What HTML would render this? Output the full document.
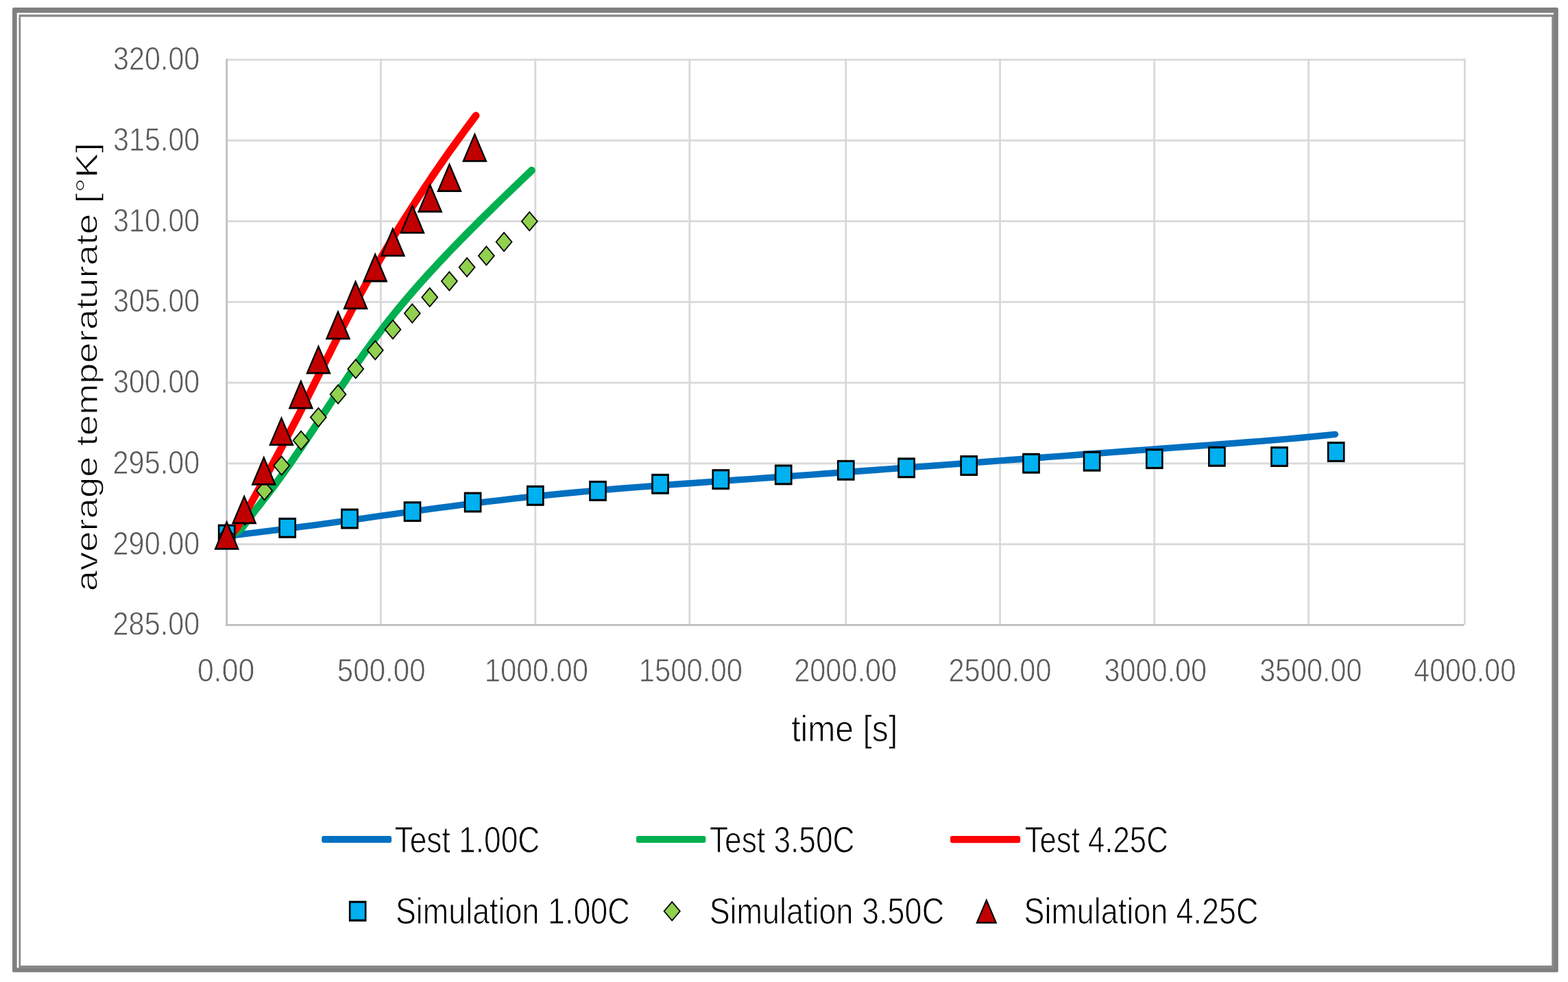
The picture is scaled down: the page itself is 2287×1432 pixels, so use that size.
<!DOCTYPE html><html><head><meta charset="utf-8"><style>html,body{margin:0;padding:0;background:#fff}svg{display:block}text{font-family:"Liberation Sans",Arial,sans-serif}</style></head><body>
<svg width="2287" height="1432" viewBox="0 0 2287 1432">
<rect width="2287" height="1432" fill="#fff"/>
<rect x="18" y="11" width="2254.8" height="1406.7" rx="2" fill="#7f7f7f"/>
<rect x="24.7" y="18.7" width="2241.4" height="1392.6" fill="#fff"/>
<rect x="27.4" y="21.2" width="2239.4" height="1390.8" fill="#888"/>
<rect x="30.2" y="24.6" width="2233.1" height="1383.4" fill="#fff"/>
<rect x="330.7" y="792.23" width="1807.1" height="2.8" fill="#d9d9d9"/>
<rect x="330.7" y="674.48" width="1807.1" height="2.8" fill="#d9d9d9"/>
<rect x="330.7" y="556.72" width="1807.1" height="2.8" fill="#d9d9d9"/>
<rect x="330.7" y="438.97" width="1807.1" height="2.8" fill="#d9d9d9"/>
<rect x="330.7" y="321.21" width="1807.1" height="2.8" fill="#d9d9d9"/>
<rect x="330.7" y="203.45" width="1807.1" height="2.8" fill="#d9d9d9"/>
<rect x="330.7" y="85.70" width="1807.1" height="2.8" fill="#d9d9d9"/>
<rect x="554.10" y="85.70" width="2.8" height="825.68" fill="#d9d9d9"/>
<rect x="779.40" y="85.70" width="2.8" height="825.68" fill="#d9d9d9"/>
<rect x="1004.40" y="85.70" width="2.8" height="825.68" fill="#d9d9d9"/>
<rect x="1232.30" y="85.70" width="2.8" height="825.68" fill="#d9d9d9"/>
<rect x="1457.20" y="85.70" width="2.8" height="825.68" fill="#d9d9d9"/>
<rect x="1682.20" y="85.70" width="2.8" height="825.68" fill="#d9d9d9"/>
<rect x="1907.20" y="85.70" width="2.8" height="825.68" fill="#d9d9d9"/>
<rect x="2135.00" y="85.70" width="2.8" height="825.68" fill="#d9d9d9"/>
<rect x="329.30" y="85.70" width="2.8" height="827.08" fill="#bfbfbf"/>
<rect x="329.30" y="909.99" width="1805.70" height="2.8" fill="#bfbfbf"/>
<g fill="none" stroke-linecap="round" stroke-linejoin="round">
<path d="M330.7,781.5 L348.9,779.5 L367.0,777.4 L385.2,775.2 L403.4,772.9 L421.5,770.6 L439.7,768.2 L457.9,765.8 L476.0,763.3 L494.2,760.8 L512.4,758.3 L530.5,755.8 L548.7,753.2 L566.9,750.7 L585.0,748.2 L603.2,745.6 L621.4,743.2 L639.5,740.7 L657.7,738.3 L675.9,735.9 L694.0,733.7 L712.2,731.4 L730.4,729.3 L748.5,727.2 L766.7,725.2 L784.9,723.3 L803.0,721.5 L821.2,719.7 L839.4,718.0 L857.5,716.4 L875.7,714.8 L893.9,713.3 L912.0,711.8 L930.2,710.4 L948.4,709.0 L966.5,707.6 L984.7,706.3 L1002.9,705.0 L1021.0,703.7 L1039.2,702.4 L1057.4,701.1 L1075.5,699.8 L1093.7,698.6 L1111.9,697.3 L1130.0,696.0 L1148.2,694.7 L1166.3,693.4 L1184.5,692.1 L1202.7,690.8 L1220.8,689.5 L1239.0,688.1 L1257.2,686.8 L1275.3,685.5 L1293.5,684.1 L1311.7,682.8 L1329.8,681.4 L1348.0,680.1 L1366.2,678.7 L1384.3,677.4 L1402.5,676.0 L1420.7,674.6 L1438.8,673.3 L1457.0,671.9 L1475.2,670.5 L1493.3,669.2 L1511.5,667.8 L1529.7,666.4 L1547.8,665.1 L1566.0,663.7 L1584.2,662.3 L1602.3,661.0 L1620.5,659.6 L1638.7,658.3 L1656.8,656.9 L1675.0,655.6 L1693.2,654.2 L1711.3,652.9 L1729.5,651.5 L1747.7,650.2 L1765.8,648.9 L1784.0,647.5 L1802.2,646.2 L1820.3,644.8 L1838.5,643.4 L1856.7,641.9 L1874.8,640.4 L1893.0,638.7 L1911.2,637.0 L1929.3,635.3 L1947.5,633.4" stroke="#0070c0" stroke-width="9.4"/>
<path d="M330.7,781.7 L341.0,778.5 L352.0,771.0 L372.3,744.0 L379.1,735.6 L385.6,727.2 L392.1,718.8 L398.4,710.4 L404.6,702.0 L410.7,693.6 L416.7,685.2 L422.6,676.8 L428.5,668.4 L434.2,660.0 L440.0,651.6 L445.6,643.2 L451.2,634.8 L456.8,626.4 L462.3,618.0 L467.8,609.6 L473.4,601.2 L478.9,592.8 L484.4,584.4 L489.9,576.0 L495.5,567.6 L501.1,559.2 L506.7,550.8 L512.4,542.4 L518.2,534.0 L524.0,525.6 L529.9,517.2 L535.9,508.8 L542.0,500.4 L548.2,492.1 L554.5,483.7 L560.9,475.3 L567.5,466.9 L574.2,458.5 L581.0,450.1 L588.0,441.7 L595.1,433.3 L602.4,424.9 L609.7,416.5 L617.2,408.1 L624.8,399.7 L632.5,391.3 L640.3,382.9 L648.2,374.5 L656.2,366.1 L664.3,357.7 L672.5,349.3 L680.8,340.9 L689.1,332.5 L697.5,324.1 L706.0,315.7 L714.5,307.3 L723.1,298.9 L731.7,290.5 L740.4,282.1 L749.2,273.7 L757.9,265.3 L766.7,256.9 L775.5,248.5" stroke="#00b050" stroke-width="10.8"/>
<path d="M330.7,781.7 L339.0,778.0 L346.0,769.1 L350.9,760.4 L355.9,751.7 L360.9,743.0 L365.8,734.3 L370.7,725.6 L375.5,716.9 L380.4,708.2 L385.2,699.5 L390.0,690.8 L394.8,682.1 L399.5,673.4 L404.2,664.6 L408.9,655.9 L413.5,647.2 L418.1,638.5 L422.7,629.8 L427.3,621.1 L431.8,612.4 L436.3,603.7 L440.7,595.0 L445.1,586.3 L449.5,577.6 L453.9,568.9 L458.2,560.2 L462.6,551.5 L466.9,542.8 L471.3,534.1 L475.6,525.4 L480.0,516.7 L484.3,508.0 L488.7,499.3 L493.2,490.6 L497.6,481.9 L502.1,473.2 L506.7,464.4 L511.2,455.7 L515.9,447.0 L520.6,438.3 L525.3,429.6 L530.1,420.9 L534.9,412.2 L539.8,403.5 L544.8,394.8 L549.8,386.1 L554.8,377.4 L559.9,368.7 L565.1,360.0 L570.3,351.3 L575.6,342.6 L580.9,333.9 L586.3,325.2 L591.8,316.5 L597.3,307.8 L602.9,299.1 L608.5,290.4 L614.2,281.7 L619.9,273.0 L625.8,264.2 L631.6,255.5 L637.6,246.8 L643.6,238.1 L649.7,229.4 L655.8,220.7 L662.1,212.0 L668.3,203.3 L674.7,194.6 L681.1,185.9 L687.6,177.2 L694.1,168.5" stroke="#ff0000" stroke-width="10.8"/>
</g>
<rect x="317.85" y="764.55" width="25.7" height="29.9" fill="#000"/><rect x="320.45" y="767.65" width="20.50" height="23.70" fill="#00b0f0"/>
<rect x="406.35" y="754.85" width="25.7" height="29.9" fill="#000"/><rect x="408.95" y="757.95" width="20.50" height="23.70" fill="#00b0f0"/>
<rect x="497.15" y="741.55" width="25.7" height="29.9" fill="#000"/><rect x="499.75" y="744.65" width="20.50" height="23.70" fill="#00b0f0"/>
<rect x="588.65" y="731.15" width="25.7" height="29.9" fill="#000"/><rect x="591.25" y="734.25" width="20.50" height="23.70" fill="#00b0f0"/>
<rect x="676.75" y="717.55" width="25.7" height="29.9" fill="#000"/><rect x="679.35" y="720.65" width="20.50" height="23.70" fill="#00b0f0"/>
<rect x="767.95" y="707.85" width="25.7" height="29.9" fill="#000"/><rect x="770.55" y="710.95" width="20.50" height="23.70" fill="#00b0f0"/>
<rect x="859.15" y="700.95" width="25.7" height="29.9" fill="#000"/><rect x="861.75" y="704.05" width="20.50" height="23.70" fill="#00b0f0"/>
<rect x="950.15" y="690.85" width="25.7" height="29.9" fill="#000"/><rect x="952.75" y="693.95" width="20.50" height="23.70" fill="#00b0f0"/>
<rect x="1038.45" y="684.15" width="25.7" height="29.9" fill="#000"/><rect x="1041.05" y="687.25" width="20.50" height="23.70" fill="#00b0f0"/>
<rect x="1129.85" y="677.45" width="25.7" height="29.9" fill="#000"/><rect x="1132.45" y="680.55" width="20.50" height="23.70" fill="#00b0f0"/>
<rect x="1220.95" y="670.85" width="25.7" height="29.9" fill="#000"/><rect x="1223.55" y="673.95" width="20.50" height="23.70" fill="#00b0f0"/>
<rect x="1309.25" y="667.35" width="25.7" height="29.9" fill="#000"/><rect x="1311.85" y="670.45" width="20.50" height="23.70" fill="#00b0f0"/>
<rect x="1400.35" y="664.05" width="25.7" height="29.9" fill="#000"/><rect x="1402.95" y="667.15" width="20.50" height="23.70" fill="#00b0f0"/>
<rect x="1491.15" y="660.75" width="25.7" height="29.9" fill="#000"/><rect x="1493.75" y="663.85" width="20.50" height="23.70" fill="#00b0f0"/>
<rect x="1579.75" y="657.75" width="25.7" height="29.9" fill="#000"/><rect x="1582.35" y="660.85" width="20.50" height="23.70" fill="#00b0f0"/>
<rect x="1670.95" y="654.15" width="25.7" height="29.9" fill="#000"/><rect x="1673.55" y="657.25" width="20.50" height="23.70" fill="#00b0f0"/>
<rect x="1762.05" y="650.85" width="25.7" height="29.9" fill="#000"/><rect x="1764.65" y="653.95" width="20.50" height="23.70" fill="#00b0f0"/>
<rect x="1853.15" y="651.05" width="25.7" height="29.9" fill="#000"/><rect x="1855.75" y="654.15" width="20.50" height="23.70" fill="#00b0f0"/>
<rect x="1935.85" y="644.05" width="25.7" height="29.9" fill="#000"/><rect x="1938.45" y="647.15" width="20.50" height="23.70" fill="#00b0f0"/>
<path d="M330.70,766.50 L343.30,781.50 L330.70,796.50 L318.10,781.50Z" fill="#000"/><path d="M330.70,769.25 L341.02,781.50 L330.70,793.75 L320.38,781.50Z" fill="#92d050"/>
<path d="M357.00,737.00 L369.60,752.00 L357.00,767.00 L344.40,752.00Z" fill="#000"/><path d="M357.00,739.75 L367.32,752.00 L357.00,764.25 L346.68,752.00Z" fill="#92d050"/>
<path d="M385.70,700.50 L398.30,715.50 L385.70,730.50 L373.10,715.50Z" fill="#000"/><path d="M385.70,703.25 L396.02,715.50 L385.70,727.75 L375.38,715.50Z" fill="#92d050"/>
<path d="M410.70,664.10 L423.30,679.10 L410.70,694.10 L398.10,679.10Z" fill="#000"/><path d="M410.70,666.86 L421.02,679.10 L410.70,691.35 L400.38,679.10Z" fill="#92d050"/>
<path d="M439.10,627.20 L451.70,642.20 L439.10,657.20 L426.50,642.20Z" fill="#000"/><path d="M439.10,629.96 L449.42,642.20 L439.10,654.45 L428.78,642.20Z" fill="#92d050"/>
<path d="M464.40,593.40 L477.00,608.40 L464.40,623.40 L451.80,608.40Z" fill="#000"/><path d="M464.40,596.15 L474.72,608.40 L464.40,620.64 L454.08,608.40Z" fill="#92d050"/>
<path d="M493.10,560.00 L505.70,575.00 L493.10,590.00 L480.50,575.00Z" fill="#000"/><path d="M493.10,562.75 L503.42,575.00 L493.10,587.25 L482.78,575.00Z" fill="#92d050"/>
<path d="M518.80,523.00 L531.40,538.00 L518.80,553.00 L506.20,538.00Z" fill="#000"/><path d="M518.80,525.75 L529.12,538.00 L518.80,550.25 L508.48,538.00Z" fill="#92d050"/>
<path d="M547.30,495.80 L559.90,510.80 L547.30,525.80 L534.70,510.80Z" fill="#000"/><path d="M547.30,498.56 L557.62,510.80 L547.30,523.04 L536.98,510.80Z" fill="#92d050"/>
<path d="M573.00,465.60 L585.60,480.60 L573.00,495.60 L560.40,480.60Z" fill="#000"/><path d="M573.00,468.36 L583.32,480.60 L573.00,492.85 L562.68,480.60Z" fill="#92d050"/>
<path d="M601.30,442.00 L613.90,457.00 L601.30,472.00 L588.70,457.00Z" fill="#000"/><path d="M601.30,444.75 L611.62,457.00 L601.30,469.25 L590.98,457.00Z" fill="#92d050"/>
<path d="M626.80,418.40 L639.40,433.40 L626.80,448.40 L614.20,433.40Z" fill="#000"/><path d="M626.80,421.15 L637.12,433.40 L626.80,445.64 L616.48,433.40Z" fill="#92d050"/>
<path d="M655.40,395.00 L668.00,410.00 L655.40,425.00 L642.80,410.00Z" fill="#000"/><path d="M655.40,397.75 L665.72,410.00 L655.40,422.25 L645.08,410.00Z" fill="#92d050"/>
<path d="M681.10,374.70 L693.70,389.70 L681.10,404.70 L668.50,389.70Z" fill="#000"/><path d="M681.10,377.45 L691.42,389.70 L681.10,401.94 L670.78,389.70Z" fill="#92d050"/>
<path d="M709.40,357.90 L722.00,372.90 L709.40,387.90 L696.80,372.90Z" fill="#000"/><path d="M709.40,360.65 L719.72,372.90 L709.40,385.14 L699.08,372.90Z" fill="#92d050"/>
<path d="M735.10,337.80 L747.70,352.80 L735.10,367.80 L722.50,352.80Z" fill="#000"/><path d="M735.10,340.56 L745.42,352.80 L735.10,365.05 L724.78,352.80Z" fill="#92d050"/>
<path d="M772.30,307.80 L784.90,322.80 L772.30,337.80 L759.70,322.80Z" fill="#000"/><path d="M772.30,310.56 L782.62,322.80 L772.30,335.05 L761.98,322.80Z" fill="#92d050"/>
<path d="M330.70,758.30 L349.05,801.70 L312.35,801.70Z" fill="#000"/><path d="M330.70,764.21 L345.37,798.90 L316.03,798.90Z" fill="#c00000"/>
<path d="M356.20,720.90 L374.55,764.30 L337.85,764.30Z" fill="#000"/><path d="M356.20,726.81 L370.87,761.50 L341.53,761.50Z" fill="#c00000"/>
<path d="M384.80,664.30 L403.15,707.70 L366.45,707.70Z" fill="#000"/><path d="M384.80,670.21 L399.47,704.90 L370.13,704.90Z" fill="#c00000"/>
<path d="M410.50,606.70 L428.85,650.10 L392.15,650.10Z" fill="#000"/><path d="M410.50,612.61 L425.17,647.30 L395.83,647.30Z" fill="#c00000"/>
<path d="M438.90,553.10 L457.25,596.50 L420.55,596.50Z" fill="#000"/><path d="M438.90,559.01 L453.57,593.70 L424.23,593.70Z" fill="#c00000"/>
<path d="M464.50,502.20 L482.85,545.60 L446.15,545.60Z" fill="#000"/><path d="M464.50,508.11 L479.17,542.80 L449.83,542.80Z" fill="#c00000"/>
<path d="M493.00,451.80 L511.35,495.20 L474.65,495.20Z" fill="#000"/><path d="M493.00,457.71 L507.67,492.40 L478.33,492.40Z" fill="#c00000"/>
<path d="M518.60,407.80 L536.95,451.20 L500.25,451.20Z" fill="#000"/><path d="M518.60,413.71 L533.27,448.40 L503.93,448.40Z" fill="#c00000"/>
<path d="M547.20,368.00 L565.55,411.40 L528.85,411.40Z" fill="#000"/><path d="M547.20,373.91 L561.87,408.60 L532.53,408.60Z" fill="#c00000"/>
<path d="M572.90,330.80 L591.25,374.20 L554.55,374.20Z" fill="#000"/><path d="M572.90,336.71 L587.57,371.40 L558.23,371.40Z" fill="#c00000"/>
<path d="M601.50,297.30 L619.85,340.70 L583.15,340.70Z" fill="#000"/><path d="M601.50,303.21 L616.17,337.90 L586.83,337.90Z" fill="#c00000"/>
<path d="M627.20,266.50 L645.55,309.90 L608.85,309.90Z" fill="#000"/><path d="M627.20,272.41 L641.87,307.10 L612.53,307.10Z" fill="#c00000"/>
<path d="M655.50,236.70 L673.85,280.10 L637.15,280.10Z" fill="#000"/><path d="M655.50,242.61 L670.17,277.30 L640.83,277.30Z" fill="#c00000"/>
<path d="M692.40,192.90 L710.75,236.30 L674.05,236.30Z" fill="#000"/><path d="M692.40,198.81 L707.07,233.50 L677.73,233.50Z" fill="#c00000"/>
<text x="164.53" y="926.33" font-size="48.64" textLength="126.82" lengthAdjust="spacingAndGlyphs" fill="#595959" stroke="#fff" stroke-width="0.8">285.00</text>
<text x="164.53" y="808.57" font-size="48.64" textLength="126.82" lengthAdjust="spacingAndGlyphs" fill="#595959" stroke="#fff" stroke-width="0.8">290.00</text>
<text x="164.53" y="690.82" font-size="48.64" textLength="126.82" lengthAdjust="spacingAndGlyphs" fill="#595959" stroke="#fff" stroke-width="0.8">295.00</text>
<text x="165.03" y="573.06" font-size="48.64" textLength="126.30" lengthAdjust="spacingAndGlyphs" fill="#595959" stroke="#fff" stroke-width="0.8">300.00</text>
<text x="165.03" y="455.30" font-size="48.64" textLength="126.30" lengthAdjust="spacingAndGlyphs" fill="#595959" stroke="#fff" stroke-width="0.8">305.00</text>
<text x="165.03" y="337.55" font-size="48.64" textLength="126.30" lengthAdjust="spacingAndGlyphs" fill="#595959" stroke="#fff" stroke-width="0.8">310.00</text>
<text x="165.03" y="219.79" font-size="48.64" textLength="126.30" lengthAdjust="spacingAndGlyphs" fill="#595959" stroke="#fff" stroke-width="0.8">315.00</text>
<text x="165.03" y="102.04" font-size="48.64" textLength="126.30" lengthAdjust="spacingAndGlyphs" fill="#595959" stroke="#fff" stroke-width="0.8">320.00</text>
<text x="287.93" y="993.63" font-size="48.14" textLength="83.35" lengthAdjust="spacingAndGlyphs" fill="#595959" stroke="#fff" stroke-width="0.8">0.00</text>
<text x="491.81" y="993.63" font-size="48.14" textLength="128.85" lengthAdjust="spacingAndGlyphs" fill="#595959" stroke="#fff" stroke-width="0.8">500.00</text>
<text x="706.82" y="993.63" font-size="48.14" textLength="151.30" lengthAdjust="spacingAndGlyphs" fill="#595959" stroke="#fff" stroke-width="0.8">1000.00</text>
<text x="931.82" y="993.63" font-size="48.14" textLength="151.10" lengthAdjust="spacingAndGlyphs" fill="#595959" stroke="#fff" stroke-width="0.8">1500.00</text>
<text x="1158.23" y="993.63" font-size="48.14" textLength="149.98" lengthAdjust="spacingAndGlyphs" fill="#595959" stroke="#fff" stroke-width="0.8">2000.00</text>
<text x="1383.53" y="993.63" font-size="48.14" textLength="149.98" lengthAdjust="spacingAndGlyphs" fill="#595959" stroke="#fff" stroke-width="0.8">2500.00</text>
<text x="1610.43" y="993.63" font-size="48.14" textLength="149.47" lengthAdjust="spacingAndGlyphs" fill="#595959" stroke="#fff" stroke-width="0.8">3000.00</text>
<text x="1837.13" y="993.63" font-size="48.14" textLength="149.47" lengthAdjust="spacingAndGlyphs" fill="#595959" stroke="#fff" stroke-width="0.8">3500.00</text>
<text x="2062.25" y="993.63" font-size="48.14" textLength="148.84" lengthAdjust="spacingAndGlyphs" fill="#595959" stroke="#fff" stroke-width="0.8">4000.00</text>
<text x="1154.18" y="1081.30" font-size="53.43" textLength="155.12" lengthAdjust="spacingAndGlyphs" fill="#000" stroke="#fff" stroke-width="1.0">time [s]</text>
<g transform="translate(141.6,860) rotate(-90)"><text x="-2.29" y="0" font-size="45" textLength="654.13" lengthAdjust="spacingAndGlyphs" fill="#000" stroke="#fff" stroke-width="1.0">average temperaturate [°K]</text></g>
<rect x="469.2" y="1219.0" width="101.9" height="10.1" rx="3" fill="#0070c0"/>
<rect x="928.0" y="1219.0" width="101.4" height="10.1" rx="3" fill="#00b050"/>
<rect x="1386.0" y="1219.1" width="102.2" height="10.1" rx="3" fill="#ff0000"/>
<text x="575.52" y="1243.30" font-size="54.43" textLength="211.87" lengthAdjust="spacingAndGlyphs" fill="#000" stroke="#fff" stroke-width="1.0">Test 1.00C</text>
<text x="1034.93" y="1243.30" font-size="54.43" textLength="211.67" lengthAdjust="spacingAndGlyphs" fill="#000" stroke="#fff" stroke-width="1.0">Test 3.50C</text>
<text x="1494.64" y="1243.30" font-size="54.43" textLength="209.14" lengthAdjust="spacingAndGlyphs" fill="#000" stroke="#fff" stroke-width="1.0">Test 4.25C</text>
<text x="576.94" y="1347.00" font-size="54.43" textLength="341.78" lengthAdjust="spacingAndGlyphs" fill="#000" stroke="#fff" stroke-width="1.0">Simulation 1.00C</text>
<text x="1034.63" y="1347.00" font-size="54.43" textLength="342.49" lengthAdjust="spacingAndGlyphs" fill="#000" stroke="#fff" stroke-width="1.0">Simulation 3.50C</text>
<text x="1493.53" y="1347.00" font-size="54.43" textLength="341.88" lengthAdjust="spacingAndGlyphs" fill="#000" stroke="#fff" stroke-width="1.0">Simulation 4.25C</text>
<rect x="508.90" y="1313.65" width="25.6" height="30.1" fill="#000"/><rect x="511.50" y="1316.75" width="20.40" height="23.90" fill="#00b0f0"/>
<path d="M980.20,1313.80 L992.95,1328.80 L980.20,1343.80 L967.45,1328.80Z" fill="#000"/><path d="M980.20,1316.56 L990.67,1328.80 L980.20,1341.04 L969.73,1328.80Z" fill="#92d050"/>
<path d="M1438.80,1310.10 L1454.40,1346.70 L1423.20,1346.70Z" fill="#000"/><path d="M1438.80,1315.20 L1451.16,1344.20 L1426.44,1344.20Z" fill="#c00000"/>
</svg></body></html>
